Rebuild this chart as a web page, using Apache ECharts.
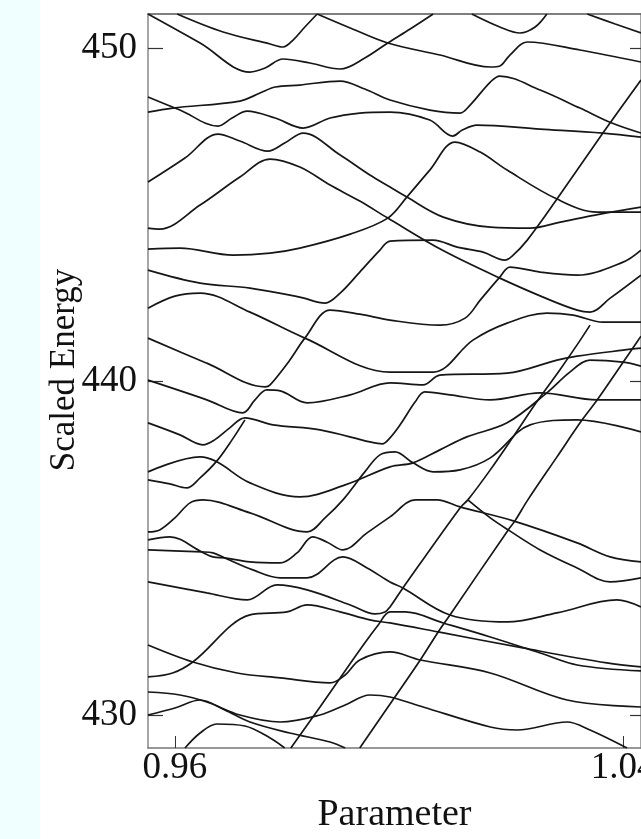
<!DOCTYPE html>
<html><head><meta charset="utf-8">
<script src="https://cdn.jsdelivr.net/npm/echarts@6/dist/echarts.min.js"></script>
<style>html,body{margin:0;padding:0;background:#fff}#c{width:641px;height:839px}</style>
</head><body><div id="c"></div>
<script>
const xTicks = [0.96, 1.04];
const yTicks = [430, 440, 450];
const c01 = [[0.9552,451.02],[0.9645,450.15],[0.9734,449.28],[0.9761,449.40],[0.9793,449.67],[0.9841,449.55],[0.9895,449.37],[0.9939,449.70],[0.9980,450.15],[1.0020,450.57],[1.0061,451.02]];
const c02 = [[0.9604,451.02],[0.9686,450.48],[0.9770,450.12],[0.9793,450.03],[0.9811,450.24],[0.9832,450.63],[0.9854,451.02]];
const c03 = [[0.9854,451.02],[0.9913,450.60],[0.9980,450.15],[1.0073,449.79],[1.0163,449.43],[1.0180,449.46],[1.0198,449.79],[1.0229,450.18],[1.0323,449.94],[1.0432,449.58]];
const c04 = [[1.0130,451.02],[1.0180,450.63],[1.0216,450.45],[1.0243,450.63],[1.0264,451.02]];
const c05 = [[1.0336,451.02],[1.0386,450.72],[1.0432,450.45]];
const c06 = [[0.9552,448.53],[0.9609,448.14],[0.9677,447.66],[0.9702,447.90],[0.9729,448.11],[0.9779,447.90],[0.9829,447.60],[0.9877,447.90],[0.9930,448.05],[0.9984,448.08],[1.0055,447.84],[1.0096,447.36],[1.0113,447.54],[1.0139,447.69],[1.0252,447.57],[1.0364,447.45],[1.0432,447.33]];
const c07 = [[0.9552,448.08],[0.9596,448.20],[0.9716,448.41],[0.9752,448.65],[0.9779,448.83],[0.9823,448.89],[0.9895,449.01],[0.9939,448.77],[0.9984,448.44],[1.0055,448.14],[1.0109,448.05],[1.0127,448.29],[1.0163,448.98],[1.0180,449.16],[1.0252,448.74],[1.0323,448.20],[1.0380,447.75],[1.0432,447.45]];
const c08 = [[0.9552,445.98],[0.9618,446.70],[0.9677,447.42],[0.9716,447.21],[0.9766,446.91],[0.9796,447.15],[0.9829,447.45],[0.9895,446.79],[0.9948,446.19],[0.9984,445.83],[1.0014,445.53],[1.0079,444.93],[1.0163,444.63],[1.0234,444.60],[1.0288,444.78],[1.0359,445.02],[1.0432,445.23]];
const c09 = [[0.9552,444.60],[0.9573,444.57],[0.9645,445.29],[0.9716,446.13],[0.9770,446.67],[0.9823,446.43],[0.9877,445.89],[0.9930,445.41],[0.9980,444.90],[1.0077,443.94],[1.0180,443.10],[1.0270,442.44],[1.0318,442.14],[1.0341,442.08],[1.0377,442.50],[1.0432,443.19]];
const c10 = [[0.9552,443.97],[0.9609,444.00],[0.9704,443.79],[0.9770,443.85],[0.9823,444.00],[0.9913,444.42],[0.9980,444.90],[1.0014,445.53],[1.0055,446.34],[1.0100,447.18],[1.0145,446.88],[1.0193,446.34],[1.0282,445.47],[1.0354,445.08],[1.0432,445.08]];
const c11 = [[0.9552,443.34],[0.9645,442.95],[0.9734,442.80],[0.9823,442.53],[0.9868,442.35],[0.9895,442.65],[0.9930,443.28],[0.9966,443.94],[0.9984,444.21],[1.0061,444.24],[1.0104,444.03],[1.0150,443.88],[1.0189,443.64],[1.0202,443.76],[1.0229,444.24],[1.0282,445.47],[1.0364,447.45],[1.0432,449.04]];
const c12 = [[0.9552,442.20],[0.9600,442.56],[0.9645,442.65],[0.9734,442.08],[0.9832,441.30],[0.9984,440.28],[1.0061,440.28],[1.0132,441.24],[1.0193,441.75],[1.0264,442.05],[1.0311,441.99],[1.0364,441.78],[1.0432,441.78]];
const c13 = [[0.9552,441.30],[0.9657,440.55],[0.9761,439.84],[0.9770,439.90],[0.9805,440.64],[0.9832,441.30],[0.9877,442.14],[0.9930,442.02],[0.9984,441.84],[1.0073,441.69],[1.0118,441.90],[1.0145,442.44],[1.0180,443.13],[1.0198,443.43],[1.0252,443.28],[1.0318,443.19],[1.0400,443.58],[1.0432,443.94]];
const c14 = [[0.9552,440.04],[0.9657,439.45],[0.9721,439.06],[0.9743,439.45],[0.9764,439.75],[0.9788,439.72],[0.9836,439.36],[0.9913,439.60],[0.9984,439.96],[1.0043,439.90],[1.0073,440.19],[1.0193,440.25],[1.0282,440.64],[1.0318,440.76],[1.0400,440.94],[1.0432,441.00]];
const c15 = [[0.9552,438.76],[0.9609,438.40],[0.9650,438.10],[0.9671,438.25],[0.9698,438.61],[0.9725,438.91],[0.9775,438.70],[0.9859,438.55],[0.9948,438.19],[0.9970,438.13],[0.9984,438.31],[1.0002,438.70],[1.0029,439.39],[1.0046,439.69],[1.0091,439.60],[1.0163,439.45],[1.0252,439.66],[1.0354,439.45],[1.0432,439.45]];
const c16 = [[0.9552,437.29],[0.9645,437.74],[0.9675,437.59],[0.9734,436.96],[0.9823,436.54],[0.9904,436.90],[0.9984,437.44],[1.0025,437.56],[1.0073,437.95],[1.0121,438.34],[1.0193,438.76],[1.0264,439.66],[1.0305,440.28],[1.0341,440.64],[1.0400,440.58],[1.0432,440.46]];
const c17 = [[0.9552,435.49],[0.9573,435.55],[0.9600,435.91],[0.9627,436.36],[0.9650,436.45],[0.9734,436.06],[0.9836,435.49],[0.9868,435.91],[0.9900,436.45],[0.9939,437.29],[0.9966,437.80],[0.9993,437.89],[1.0025,437.56],[1.0061,437.29],[1.0109,437.35],[1.0163,437.71],[1.0234,438.70],[1.0318,438.85],[1.0432,438.49]];
const c18 = [[0.9552,435.25],[0.9591,435.34],[0.9648,434.89],[0.9668,434.74],[0.9689,434.71],[0.9734,434.59],[0.9788,434.56],[0.9818,434.86],[0.9846,435.34],[0.9871,435.19],[0.9900,434.95],[0.9943,435.46],[0.9984,435.94],[1.0029,436.45],[1.0068,436.45],[1.0109,436.24],[1.0204,435.82],[1.0318,435.16],[1.0377,434.74],[1.0432,434.59]];
const c19 = [[0.9552,434.95],[0.9648,434.89],[0.9668,434.86],[0.9689,434.71],[0.9739,434.35],[0.9788,434.11],[0.9836,434.11],[0.9900,434.74],[0.9943,434.41],[0.9984,433.99],[1.0007,433.81],[1.0091,433.00],[1.0193,432.79],[1.0282,433.06],[1.0389,433.45],[1.0432,433.24]];
const c20 = [[0.9552,433.99],[0.9657,433.66],[0.9729,433.45],[0.9782,433.90],[0.9836,433.75],[0.9913,433.30],[0.9957,433.03],[0.9975,433.09],[0.9984,433.24],[1.0007,433.81],[1.0109,436.21],[1.0123,436.45],[1.0163,437.35],[1.0205,438.37],[1.0246,439.39],[1.0288,440.37],[1.0320,441.15],[1.0341,441.69]];
const c21 = [[1.0123,436.45],[1.0163,435.91],[1.0195,435.55],[1.0252,434.95],[1.0318,434.41],[1.0377,433.99],[1.0432,434.11]];
const c22 = [[0.9930,429.01],[0.9989,430.45],[1.0038,431.65],[1.0070,432.49],[1.0091,433.00],[1.0195,435.55],[1.0207,435.82],[1.0230,436.45],[1.0282,437.74],[1.0327,438.85],[1.0354,439.45],[1.0427,441.24],[1.0432,441.36]];
const c23 = [[0.9552,431.14],[0.9596,431.26],[0.9632,431.59],[0.9734,433.00],[0.9800,433.09],[0.9836,433.30],[0.9895,433.09],[0.9948,432.85],[0.9984,432.76],[1.0070,432.49],[1.0221,432.01],[1.0371,431.56],[1.0432,431.44]];
const c24 = [[0.9807,429.01],[0.9859,430.24],[0.9895,431.11],[0.9930,431.95],[0.9963,432.70],[0.9984,433.09],[1.0011,433.09],[1.0079,432.76],[1.0163,432.34],[1.0252,431.86],[1.0318,431.50],[1.0432,431.32]];
const c25 = [[0.9552,432.10],[0.9632,431.59],[0.9711,431.26],[0.9788,431.11],[0.9877,430.96],[0.9904,431.20],[0.9930,431.65],[0.9984,431.89],[1.0038,431.65],[1.0163,431.26],[1.0300,430.45],[1.0432,430.24]];
const c26 = [[0.9552,430.69],[0.9609,430.60],[0.9657,430.39],[0.9716,430.00],[0.9788,429.79],[0.9859,430.00],[0.9904,430.30],[0.9948,430.60],[0.9984,430.54],[1.0043,430.24],[1.0163,429.64],[1.0211,429.55],[1.0300,429.79],[1.0341,429.55],[1.0407,429.01]];
const c27 = [[0.9552,430.00],[0.9600,430.21],[0.9645,430.45],[0.9689,430.15],[0.9734,429.79],[0.9805,429.46],[0.9877,429.19],[0.9904,429.01]];
const c28 = [[0.9618,429.01],[0.9645,429.46],[0.9675,429.73],[0.9725,429.67],[0.9770,429.31],[0.9796,429.01]];
const c30 = [[0.9552,437.05],[0.9591,436.93],[0.9621,436.81],[0.9645,437.11],[0.9675,437.62],[0.9702,438.25],[0.9725,438.85]];

const curves = [c01,c02,c03,c04,c05,c06,c07,c08,c09,c10,c11,c12,c13,c14,c15,c16,c17,c18,c19,c20,c21,c22,c23,c24,c25,c26,c27,c28,c30];

const serif = '"Liberation Serif","Times New Roman",serif';
const chart = echarts.init(document.getElementById('c'), null, {renderer:'canvas'});
const axisCommon = {type:'value', min:0.9552, max:1.0432, splitLine:{show:false}};
chart.setOption({
  animation:false,
  backgroundColor:'#ffffff',
  graphic:[
    {type:'rect', z:-10, shape:{x:0,y:0,width:40,height:839}, style:{fill:'#f0ffff'}},
    {type:'text', x:65, y:370, rotation:Math.PI/2,
     style:{text:'Scaled Energy', font:'35px ' + serif, fill:'#111', align:'center', verticalAlign:'middle'}}
  ],
  grid:{left:148, top:14, right:0, bottom:91, containLabel:false, outerBoundsMode:'none'},
  xAxis:[
    Object.assign({}, axisCommon, {position:'bottom',
      axisLine:{show:true, onZero:false, lineStyle:{color:'#777', width:1.5}},
      axisTick:{show:true, inside:true, length:12, customValues:xTicks, lineStyle:{color:'#333', width:1}},
      axisLabel:{show:true, customValues:xTicks, formatter:v=>v.toFixed(2), fontFamily:serif, fontSize:37, color:'#111', margin:2, hideOverlap:false},
      name:'Parameter', nameLocation:'middle', nameGap:48,
      nameTextStyle:{fontFamily:serif, fontSize:38, color:'#111'}}),
    Object.assign({}, axisCommon, {position:'top',
      axisLine:{show:true, onZero:false, lineStyle:{color:'#555', width:1.5}},
      axisTick:{show:false}, axisLabel:{show:false}})
  ],
  yAxis:[
    {type:'value', min:429.01, max:451.02, position:'left', splitLine:{show:false},
      axisLine:{show:true, onZero:false, lineStyle:{color:'#888', width:1.5}},
      axisTick:{show:true, inside:true, length:15, customValues:yTicks, lineStyle:{color:'#333', width:1.2}},
      axisLabel:{show:true, customValues:yTicks, fontFamily:serif, fontSize:37, color:'#111', margin:11}},
    {type:'value', min:429.01, max:451.02, position:'right', splitLine:{show:false},
      axisLine:{show:true, onZero:false, lineStyle:{color:'#888', width:1.5}},
      axisTick:{show:true, inside:true, length:11, customValues:yTicks, lineStyle:{color:'#333', width:1.2}},
      axisLabel:{show:false}}
  ],
  series: curves.map(d => ({type:'line', data:d, smooth:0.35, showSymbol:false, symbol:'none', silent:true, clip:true,
    lineStyle:{color:'#161616', width:1.7}}))
});
</script></body></html>
